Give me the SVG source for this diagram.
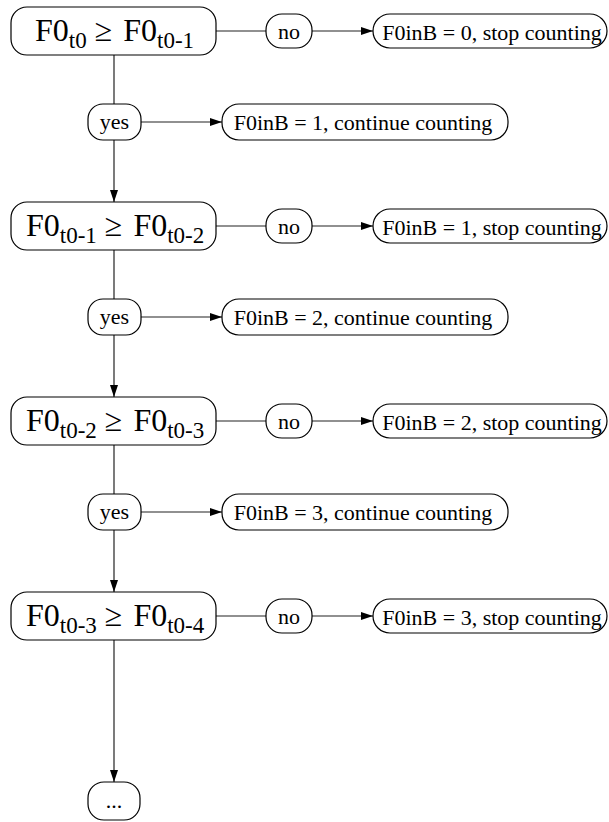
<svg xmlns="http://www.w3.org/2000/svg" width="609" height="822" viewBox="0 0 609 822">
  <style>
    .box { fill: #fff; stroke: #000; stroke-width: 1.2; }
    .edge { fill: none; stroke: #222; stroke-width: 1.2; }
    .big { font-family: "Liberation Serif", "Times New Roman", serif; font-size: 32px; fill: #000; }
    .lbl { font-family: "Liberation Serif", "Times New Roman", serif; font-size: 22px; fill: #000; text-anchor: middle; }
    .sub { font-size: 23px; }
  </style>
  <defs>
    <marker id="arrow" markerUnits="userSpaceOnUse" markerWidth="12" markerHeight="9" refX="12" refY="4.5" orient="auto">
      <path d="M0,0.5 L12,4.5 L0,8.5 z" fill="#000"/>
    </marker>
  </defs>

  <!-- connectors -->
  <g id="edges">
    <!-- row 1 -->
    <line class="edge" x1="216" y1="31" x2="266" y2="31"/>
    <line class="edge" x1="312" y1="31" x2="373" y2="31" marker-end="url(#arrow)"/>
    <line class="edge" x1="114" y1="55" x2="114" y2="104"/>
    <line class="edge" x1="141" y1="122" x2="222" y2="122" marker-end="url(#arrow)"/>
    <line class="edge" x1="114" y1="140" x2="114" y2="202" marker-end="url(#arrow)"/>
    <!-- row 2 -->
    <line class="edge" x1="216" y1="226" x2="266" y2="226"/>
    <line class="edge" x1="312" y1="226" x2="373" y2="226" marker-end="url(#arrow)"/>
    <line class="edge" x1="114" y1="250" x2="114" y2="299"/>
    <line class="edge" x1="141" y1="317" x2="222" y2="317" marker-end="url(#arrow)"/>
    <line class="edge" x1="114" y1="335" x2="114" y2="397" marker-end="url(#arrow)"/>
    <!-- row 3 -->
    <line class="edge" x1="216" y1="421" x2="266" y2="421"/>
    <line class="edge" x1="312" y1="421" x2="373" y2="421" marker-end="url(#arrow)"/>
    <line class="edge" x1="114" y1="445" x2="114" y2="494"/>
    <line class="edge" x1="141" y1="512" x2="222" y2="512" marker-end="url(#arrow)"/>
    <line class="edge" x1="114" y1="530" x2="114" y2="592" marker-end="url(#arrow)"/>
    <!-- row 4 -->
    <line class="edge" x1="216" y1="616" x2="266" y2="616"/>
    <line class="edge" x1="312" y1="616" x2="373" y2="616" marker-end="url(#arrow)"/>
    <line class="edge" x1="114" y1="640" x2="114" y2="782" marker-end="url(#arrow)"/>
  </g>

  <!-- comparison nodes -->
  <g id="cmp0">
    <rect class="box" x="11" y="7" width="205" height="48" rx="16"/>
    <text class="big" x="35" y="41">F0<tspan class="sub" dy="7">t0</tspan><tspan dy="-7" dx="8">≥</tspan><tspan dx="11">F0</tspan><tspan class="sub" dy="7">t0-1</tspan></text>
  </g>
  <g id="cmp1">
    <rect class="box" x="11" y="202" width="205" height="48" rx="16"/>
    <text class="big" x="26" y="236">F0<tspan class="sub" dy="7">t0-1</tspan><tspan dy="-7" dx="8">≥</tspan><tspan dx="11">F0</tspan><tspan class="sub" dy="7">t0-2</tspan></text>
  </g>
  <g id="cmp2">
    <rect class="box" x="11" y="397" width="205" height="48" rx="16"/>
    <text class="big" x="26" y="431">F0<tspan class="sub" dy="7">t0-2</tspan><tspan dy="-7" dx="8">≥</tspan><tspan dx="11">F0</tspan><tspan class="sub" dy="7">t0-3</tspan></text>
  </g>
  <g id="cmp3">
    <rect class="box" x="11" y="592" width="205" height="48" rx="16"/>
    <text class="big" x="26" y="626">F0<tspan class="sub" dy="7">t0-3</tspan><tspan dy="-7" dx="8">≥</tspan><tspan dx="11">F0</tspan><tspan class="sub" dy="7">t0-4</tspan></text>
  </g>

  <!-- "no" branches -->
  <g id="no0">
    <rect class="box" x="266" y="14" width="46" height="34" rx="16"/>
    <text class="lbl" x="289" y="39">no</text>
  </g>
  <g id="no1">
    <rect class="box" x="266" y="209" width="46" height="34" rx="16"/>
    <text class="lbl" x="289" y="234">no</text>
  </g>
  <g id="no2">
    <rect class="box" x="266" y="404" width="46" height="34" rx="16"/>
    <text class="lbl" x="289" y="429">no</text>
  </g>
  <g id="no3">
    <rect class="box" x="266" y="599" width="46" height="34" rx="16"/>
    <text class="lbl" x="289" y="624">no</text>
  </g>

  <!-- stop results -->
  <g id="stop0">
    <rect class="box" x="373" y="14" width="234" height="34" rx="17"/>
    <text class="lbl" x="492" y="39.5">F0inB = 0, stop counting</text>
  </g>
  <g id="stop1">
    <rect class="box" x="373" y="209" width="234" height="34" rx="17"/>
    <text class="lbl" x="492" y="234.5">F0inB = 1, stop counting</text>
  </g>
  <g id="stop2">
    <rect class="box" x="373" y="404" width="234" height="34" rx="17"/>
    <text class="lbl" x="492" y="429.5">F0inB = 2, stop counting</text>
  </g>
  <g id="stop3">
    <rect class="box" x="373" y="599" width="234" height="34" rx="17"/>
    <text class="lbl" x="492" y="624.5">F0inB = 3, stop counting</text>
  </g>

  <!-- "yes" branches -->
  <g id="yes0">
    <rect class="box" x="88" y="104" width="53" height="36" rx="15"/>
    <text class="lbl" x="114.5" y="129">yes</text>
  </g>
  <g id="yes1">
    <rect class="box" x="88" y="299" width="53" height="36" rx="15"/>
    <text class="lbl" x="114.5" y="324">yes</text>
  </g>
  <g id="yes2">
    <rect class="box" x="88" y="494" width="53" height="36" rx="15"/>
    <text class="lbl" x="114.5" y="519">yes</text>
  </g>

  <!-- continue results -->
  <g id="cont0">
    <rect class="box" x="222" y="104" width="286" height="36" rx="17"/>
    <text class="lbl" x="363" y="130">F0inB = 1, continue counting</text>
  </g>
  <g id="cont1">
    <rect class="box" x="222" y="299" width="286" height="36" rx="17"/>
    <text class="lbl" x="363" y="325">F0inB = 2, continue counting</text>
  </g>
  <g id="cont2">
    <rect class="box" x="222" y="494" width="286" height="36" rx="17"/>
    <text class="lbl" x="363" y="520">F0inB = 3, continue counting</text>
  </g>

  <!-- continuation -->
  <g id="more">
    <rect class="box" x="88" y="782" width="52" height="38" rx="16"/>
    <text class="lbl" x="114" y="808">...</text>
  </g>
</svg>
